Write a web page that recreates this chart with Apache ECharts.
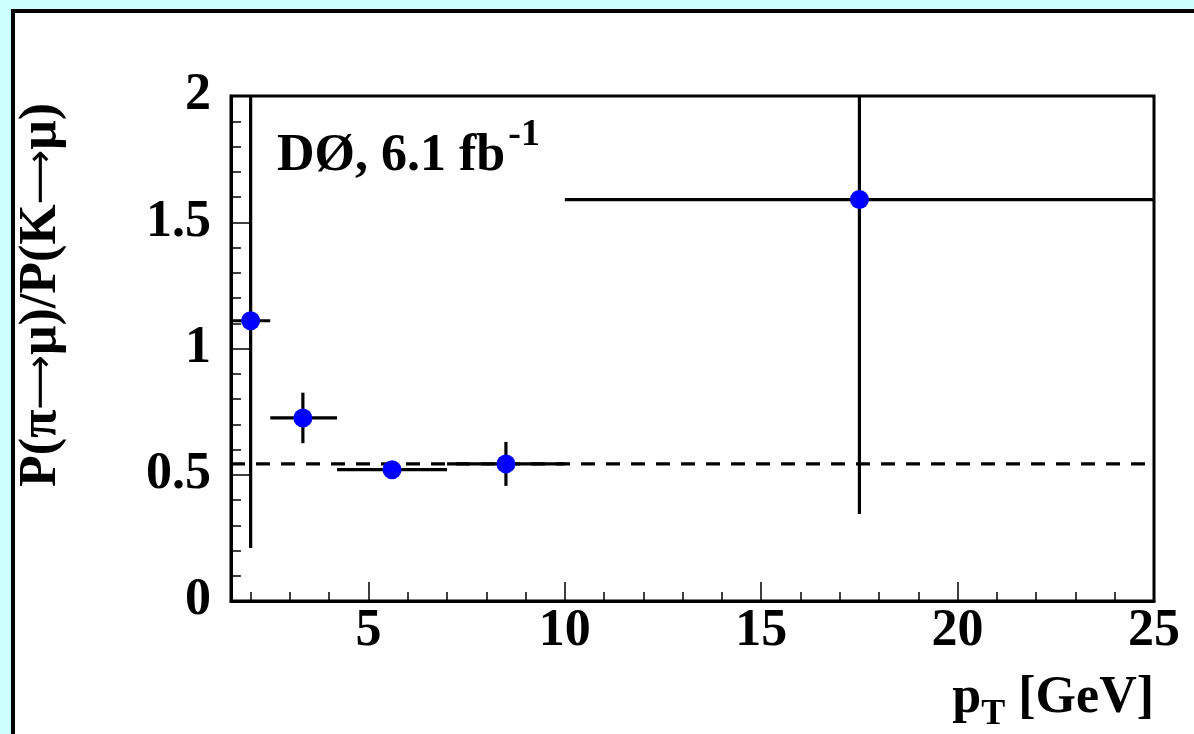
<!DOCTYPE html>
<html><head><meta charset="utf-8">
<script src="https://cdn.jsdelivr.net/npm/echarts@6/dist/echarts.min.js"></script>
<style>
html,body{margin:0;padding:0;background:#ccffff;overflow:hidden;}
#panel{position:absolute;left:11px;top:9px;width:1300px;height:900px;background:#fff;border:4px solid #000;box-sizing:border-box;}
#c{position:absolute;left:0;top:0;width:1194px;height:734px;}
</style>
</head><body><div id="panel"></div><div id="c"></div>
<script>
// ---- data ----
const xCenter = [2.0, 3.33, 5.6, 8.5, 17.5];
const xLow    = [1.5, 2.5, 4.2, 7.0, 10.0];
const xHigh   = [2.5, 4.2, 7.0, 10.0, 25.0];
const ratio    = [1.11, 0.725, 0.52, 0.543, 1.59];
const ratioErr = [0.90, 0.10, 0.03, 0.087, 1.245];
const averageRatio = 0.543;
const xMajorTicks = [5, 10, 15, 20, 25];
const xMinorTicks = [2, 3, 4, 6, 7, 8, 9, 11, 12, 13, 14, 16, 17, 18, 19, 21, 22, 23, 24];
const xRange = [1.5, 25];
const yRange = [0, 2];

const FONT = '"Liberation Serif", "Times New Roman", serif';
const F = 52;

const mctx = document.createElement('canvas').getContext('2d');
function tw(t, size) { mctx.font = 'bold ' + size + 'px ' + FONT; return mctx.measureText(t).width; }

const chart = echarts.init(document.getElementById('c'), null, {renderer: 'canvas'});

const errData = xCenter.map((x, i) => [x, ratio[i], xLow[i], xHigh[i], ratio[i] - ratioErr[i], ratio[i] + ratioErr[i]]);
const ptData = xCenter.map((x, i) => [x, ratio[i]]);

function renderErr(params, api) {
  const cs = params.coordSys;
  const clampY = v => Math.max(cs.y, Math.min(cs.y + cs.height, v));
  const clampX = v => Math.max(cs.x, Math.min(cs.x + cs.width, v));
  const c = api.coord([api.value(0), api.value(1)]);
  const l = api.coord([api.value(2), api.value(1)]);
  const r = api.coord([api.value(3), api.value(1)]);
  const lo = api.coord([api.value(0), api.value(4)]);
  const hi = api.coord([api.value(0), api.value(5)]);
  const st = {stroke: '#000', lineWidth: 3.2};
  return {type: 'group', children: [
    {type: 'line', shape: {x1: clampX(l[0]), y1: c[1], x2: clampX(r[0]), y2: c[1]}, style: st},
    {type: 'line', shape: {x1: c[0], y1: clampY(lo[1]), x2: c[0], y2: clampY(hi[1])}, style: st}
  ]};
}

const wG = tw(' [GeV]', F), wT = tw('T', 36);
const wD = tw('DØ, 6.1 fb', F);
const xTitleRight = 1154, xTitleY = 699;
const dLeft = 277, dY = 157;

const option = {
  backgroundColor: 'transparent',
  animation: false,
  grid: {left: 231, top: 96, right: 40, bottom: 133, show: true, borderColor: '#000', borderWidth: 3, backgroundColor: 'transparent'},
  xAxis: [
    {type: 'value', min: xRange[0], max: xRange[1], position: 'bottom',
     axisLine: {show: true, lineStyle: {color: '#000', width: 3}},
     axisTick: {show: true, inside: true, length: 9, customValues: xMinorTicks, lineStyle: {color: '#000', width: 1.5}},
     axisLabel: {show: false},
     splitLine: {show: false}},
    {type: 'value', min: xRange[0], max: xRange[1], position: 'bottom',
     axisLine: {show: false},
     axisTick: {show: true, inside: true, length: 19, customValues: xMajorTicks, lineStyle: {color: '#000', width: 1.5}},
     axisLabel: {show: true, customValues: xMajorTicks, margin: 5, color: '#000', fontFamily: FONT, fontWeight: 'bold', fontSize: F},
     splitLine: {show: false}}
  ],
  yAxis: {type: 'value', min: yRange[0], max: yRange[1], interval: 0.5,
    axisLine: {show: true, lineStyle: {color: '#000', width: 3}},
    axisTick: {show: true, inside: true, length: 19, lineStyle: {color: '#000', width: 1.5}},
    minorTick: {show: true, splitNumber: 5, length: 10, lineStyle: {color: '#000', width: 1.5}},
    axisLabel: {margin: 20, color: '#000', fontFamily: FONT, fontWeight: 'bold', fontSize: F},
    splitLine: {show: false}, minorSplitLine: {show: false}},
  series: [
    {type: 'line', data: [[xRange[0], averageRatio], [xRange[1], averageRatio]], symbol: 'none', silent: true,
     lineStyle: {color: '#000', width: 3.2, type: [14, 11]}, z: 2},
    {type: 'custom', data: errData, renderItem: renderErr, encode: {x: 0, y: 1}, z: 3, silent: true},
    {type: 'scatter', data: ptData, symbol: 'circle', symbolSize: 19, itemStyle: {color: '#0000ff', opacity: 1}, z: 4, silent: true}
  ],
  graphic: [
    {type: 'text', x: 42, y: 295, rotation: Math.PI / 2,
     style: {text: '{n|P(π}{a|⟶}{n|μ)/P(K}{a|⟶}{n|μ)}', fill: '#000', align: 'center', verticalAlign: 'middle',
       rich: {
         n: {fontFamily: FONT, fontWeight: 'bold', fontSize: F, fill: '#000'},
         a: {fontFamily: '"DejaVu Sans", sans-serif', fontWeight: 'normal', fontSize: 38, fill: '#000'}
       }}},
    {type: 'text', x: xTitleRight, y: xTitleY,
     style: {text: ' [GeV]', font: 'bold ' + F + 'px ' + FONT, fill: '#000', align: 'right', verticalAlign: 'middle'}},
    {type: 'text', x: xTitleRight - wG, y: xTitleY + 16,
     style: {text: 'T', font: 'bold 36px ' + FONT, fill: '#000', align: 'right', verticalAlign: 'middle'}},
    {type: 'text', x: xTitleRight - wG - wT, y: xTitleY,
     style: {text: 'p', font: 'bold ' + F + 'px ' + FONT, fill: '#000', align: 'right', verticalAlign: 'middle'}},
    {type: 'text', x: dLeft, y: dY,
     style: {text: 'DØ, 6.1 fb', font: 'bold ' + F + 'px ' + FONT, fill: '#000', align: 'left', verticalAlign: 'middle'}},
    {type: 'text', x: dLeft + wD + 3, y: dY - 22,
     style: {text: '-1', font: 'bold 38px ' + FONT, fill: '#000', align: 'left', verticalAlign: 'middle'}}
  ]
};
chart.setOption(option);
</script>
</body></html>
